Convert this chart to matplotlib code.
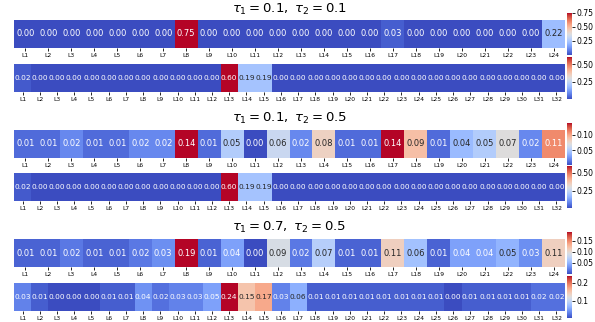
import numpy as np
import matplotlib
matplotlib.use("Agg")
import matplotlib.pyplot as plt
import seaborn as sns

# layer weights for the three (tau1, tau2) settings
titles = [r"$\tau_1 = 0.1,\ \tau_2 = 0.1$",
          r"$\tau_1 = 0.1,\ \tau_2 = 0.5$",
          r"$\tau_1 = 0.7,\ \tau_2 = 0.5$"]

labels24 = ["L%d" % (i + 1) for i in range(24)]
labels32 = ["L%d" % (i + 1) for i in range(32)]

a24 = [0.00, 0.00, 0.00, 0.00, 0.00, 0.00, 0.00, 0.75, 0.00, 0.00, 0.00, 0.00,
       0.00, 0.00, 0.00, 0.00, 0.03, 0.00, 0.00, 0.00, 0.00, 0.00, 0.00, 0.22]
a32 = [0.02, 0.00, 0.00, 0.00, 0.00, 0.00, 0.00, 0.00, 0.00, 0.00, 0.00, 0.00,
       0.60, 0.19, 0.19, 0.00, 0.00, 0.00, 0.00, 0.00, 0.00, 0.00, 0.00, 0.00,
       0.00, 0.00, 0.00, 0.00, 0.00, 0.00, 0.00, 0.00]

b24 = [0.01, 0.01, 0.02, 0.01, 0.01, 0.02, 0.02, 0.14, 0.01, 0.05, 0.00, 0.06,
       0.02, 0.08, 0.01, 0.01, 0.14, 0.09, 0.01, 0.04, 0.05, 0.07, 0.02, 0.11]
b32 = a32

c24 = [0.01, 0.01, 0.02, 0.01, 0.01, 0.02, 0.03, 0.19, 0.01, 0.04, 0.00, 0.09,
       0.02, 0.07, 0.01, 0.01, 0.11, 0.06, 0.01, 0.04, 0.04, 0.05, 0.03, 0.11]
c32 = [0.03, 0.01, 0.00, 0.00, 0.00, 0.01, 0.01, 0.04, 0.02, 0.03, 0.03, 0.05,
       0.24, 0.15, 0.17, 0.03, 0.06, 0.01, 0.01, 0.01, 0.01, 0.01, 0.01, 0.01,
       0.01, 0.00, 0.01, 0.01, 0.01, 0.01, 0.02, 0.02]

rows = [(a24, a32), (b24, b32), (c24, c32)]

# colorbar ticks shown for each strip
cbar_ticks = [([0.25, 0.50, 0.75], [0.25, 0.50]),
              ([0.05, 0.10], [0.25, 0.50]),
              ([0.05, 0.10, 0.15], [0.1, 0.2])]
cbar_fmt = [("%.2f", "%.2f"), ("%.2f", "%.2f"), ("%.2f", "%.1f")]

W, H = 595, 322
fig = plt.figure(figsize=(W / 100, H / 100), dpi=100)

def box(x0, y0, x1, y1):
    # pixel box -> figure fraction
    return [x0 / W, 1 - y1 / H, (x1 - x0) / W, (y1 - y0) / H]

hm_top = [(20, 64), (130, 173), (239, 283)]
title_y = [9, 118, 227]

for k, (r24, r32) in enumerate(rows):
    for j, (vals, labs, fs) in enumerate([(r24, labels24, 6.0), (r32, labels32, 5.3)]):
        y0 = hm_top[k][j]
        ax = fig.add_axes(box(14, y0, 565, y0 + 28))
        cax = fig.add_axes(box(567, y0 - 7, 572, y0 + 35))
        sns.heatmap(np.array([vals]), ax=ax, cbar_ax=cax, cmap="coolwarm",
                    annot=True, fmt=".2f", annot_kws={"fontsize": fs},
                    xticklabels=labs, yticklabels=False)
        ax.tick_params(axis="x", labelsize=4.3, length=2, width=0.6, pad=1.5,
                       rotation=0)
        t = cbar_ticks[k][j]
        cax.set_yticks(t)
        cax.set_yticklabels([cbar_fmt[k][j] % v for v in t])
        cax.tick_params(labelsize=5.5, length=2, width=0.6, pad=1)
    fig.text(0.5 * (14 + 565) / W, 1 - title_y[k] / H, titles[k],
             ha="center", va="center", fontsize=9.5)

fig.savefig("out.png", dpi=100)
